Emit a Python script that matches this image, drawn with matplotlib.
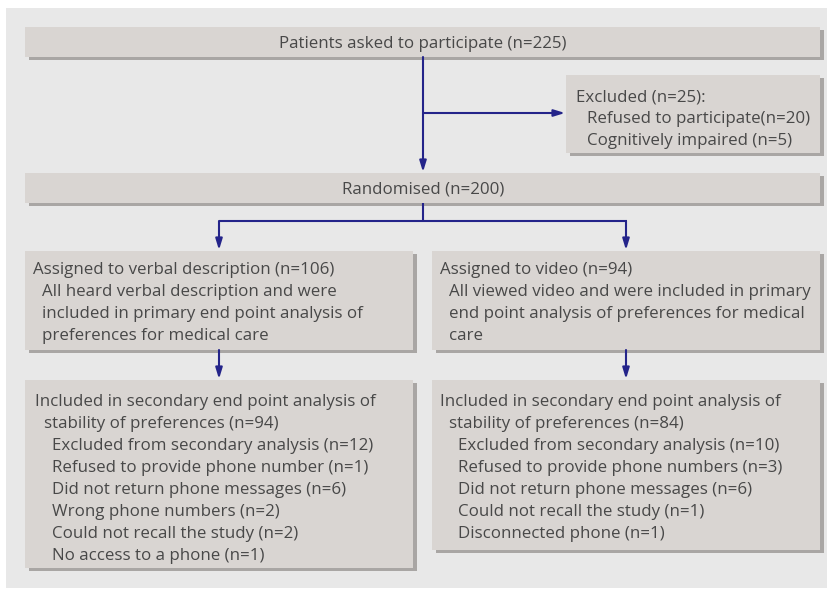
import matplotlib
matplotlib.use("Agg")
import matplotlib.pyplot as plt
from matplotlib.patches import Rectangle, FancyArrowPatch

plt.rcParams['font.family'] = ['Open Sans', 'DejaVu Sans']

# ---------------- flow chart content
top_text = "Patients asked to participate (n=225)"
excluded_lines = ["Excluded (n=25):",
                  "Refused to participate(n=20)",
                  "Cognitively impaired (n=5)"]
random_text = "Randomised (n=200)"
verbal_lines = ["Assigned to verbal description (n=106)",
                "All heard verbal description and were",
                "included in primary end point analysis of",
                "preferences for medical care"]
video_lines = ["Assigned to video (n=94)",
               "All viewed video and were included in primary",
               "end point analysis of preferences for medical",
               "care"]
verbal_sec_lines = ["Included in secondary end point analysis of",
                    "stability of preferences (n=94)",
                    "Excluded from secondary analysis (n=12)",
                    "Refused to provide phone number (n=1)",
                    "Did not return phone messages (n=6)",
                    "Wrong phone numbers (n=2)",
                    "Could not recall the study (n=2)",
                    "No access to a phone (n=1)"]
video_sec_lines = ["Included in secondary end point analysis of",
                   "stability of preferences (n=84)",
                   "Excluded from secondary analysis (n=10)",
                   "Refused to provide phone numbers (n=3)",
                   "Did not return phone messages (n=6)",
                   "Could not recall the study (n=1)",
                   "Disconnected phone (n=1)"]

W, H = 827, 593
box_col = '#d9d5d2'
shadow_col = '#a9a6a4'
txt_col = '#484848'
arrow_col = '#24248a'
fs = 12.2
line_h = 22
dy = 2  # small nudge so text sits like the original

fig = plt.figure(figsize=(W / 100, H / 100), dpi=100)
ax = fig.add_axes([0, 0, 1, 1])
ax.set_xlim(0, W)
ax.set_ylim(H, 0)
ax.axis('off')

# outer panel
ax.add_patch(Rectangle((6, 8), W - 6, 580, facecolor='#e8e8e8', edgecolor='none'))


def box(x0, y0, x1, y1):
    ax.add_patch(Rectangle((x0 + 4, y0 + 3), x1 - x0, y1 - y0,
                           facecolor=shadow_col, edgecolor='none'))
    ax.add_patch(Rectangle((x0, y0), x1 - x0, y1 - y0,
                           facecolor=box_col, edgecolor='none'))


def lines_text(x, y, lines, indents):
    for i, s in enumerate(lines):
        ax.text(x + indents[i], y + dy + i * line_h, s, fontsize=fs, color=txt_col,
                ha='left', va='center')


def arrow(x0, y0, x1, y1):
    ax.add_patch(FancyArrowPatch((x0, y0), (x1, y1),
                                 arrowstyle='-|>,head_length=6.5,head_width=2',
                                 color=arrow_col, lw=1.5, shrinkA=0, shrinkB=0,
                                 mutation_scale=1, zorder=3))


def seg(xs, ys):
    ax.plot(xs, ys, color=arrow_col, lw=1.5, solid_capstyle='butt', zorder=3)


# connectors
arrow(423, 57, 423, 172)
arrow(423, 113, 565, 113)
seg([423, 423], [203, 221])
seg([218.5, 626.5], [221, 221])
arrow(219, 221, 219, 250)
arrow(626, 221, 626, 250)
arrow(219, 350, 219, 379)
arrow(626, 350, 626, 379)

# boxes
box(25, 27, 820, 57)
ax.text(423, 42 + dy, top_text, fontsize=fs, color=txt_col, ha='center', va='center')

box(566, 75, 820, 153)
lines_text(576, 95, excluded_lines, [0, 11, 11])

box(25, 173, 820, 203)
ax.text(423, 187 + dy, random_text, fontsize=fs, color=txt_col, ha='center', va='center')

box(25, 251, 413, 350)
lines_text(33, 268, verbal_lines, [0, 9, 9, 9])

box(432, 251, 820, 350)
lines_text(440, 268, video_lines, [0, 9, 9, 9])

box(25, 380, 413, 568)
lines_text(35, 400, verbal_sec_lines, [0, 9, 17, 17, 17, 17, 17, 17])

box(432, 380, 820, 550)
lines_text(440, 400, video_sec_lines, [0, 9, 18, 18, 18, 18, 18])

fig.savefig("out.png", dpi=100)
